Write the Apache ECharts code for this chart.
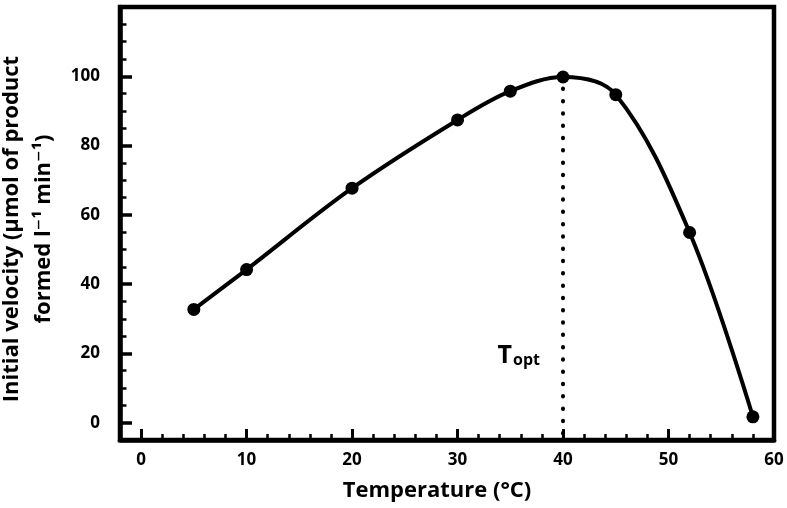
<!DOCTYPE html>
<html><head><meta charset="utf-8">
<script src="https://cdn.jsdelivr.net/npm/echarts@6/dist/echarts.min.js"></script>
<style>html,body{margin:0;padding:0;background:#fff}#c{width:787px;height:508px}</style>
</head><body><div id="c"></div>
<script>
const temperature = [5, 10, 20, 30, 35, 40, 45, 52, 58];
const velocity = [32.7, 44.2, 67.7, 87.4, 95.7, 99.8, 94.7, 54.9, 1.7];
const xMajorTicks = [0, 10, 20, 30, 40, 50, 60];
const xMinorTicks = [-2, 2, 4, 6, 8, 12, 14, 16, 18, 22, 24, 26, 28, 32, 34, 36, 38, 42, 44, 46, 48, 52, 54, 56, 58];
const yMajorTicks = [0, 20, 40, 60, 80, 100];
const yMinorTicks = [5, 10, 15, 25, 30, 35, 45, 50, 55, 65, 70, 75, 85, 90, 95, 105, 110, 115];
const optimumTemp = 40;
const optimumVelocity = 100;
const optimumLabelPos = [35.8, 20];
const xTitle = 'Temperature (°C)';
const yTitle = 'Initial velocity (µmol of product\nformed l⁻¹ min⁻¹)';

const FONT = '"Open Sans", "DejaVu Sans", sans-serif';
const X = {min: -2, max: 60};
const Y = {min: -5, max: 120};

const chart = echarts.init(document.getElementById('c'), null, {renderer: 'canvas'});
chart.setOption({
  animation: false,
  backgroundColor: '#fff',
  grid: {left: 120, right: 13, top: 7, bottom: 68, outerBoundsMode: 'none', containLabel: false,
         show: true, borderColor: '#000', borderWidth: 4.5, backgroundColor: 'transparent'},
  xAxis: [{
    type: 'value', min: X.min, max: X.max,
    name: xTitle, nameLocation: 'middle', nameGap: 40,
    nameTextStyle: {fontFamily: FONT, fontWeight: 700, fontSize: 22, color: '#000', padding: [0, 20, 0, 0]},
    axisLine: {show: true, onZero: false, lineStyle: {color: '#000', width: 4.5}},
    axisTick: {show: true, inside: true, length: 11, lineStyle: {color: '#000', width: 3}, customValues: xMajorTicks},
    axisLabel: {show: true, margin: 12, fontFamily: FONT, fontWeight: 700, fontSize: 17, color: '#000', customValues: xMajorTicks},
    splitLine: {show: false}
  }, {
    type: 'value', min: X.min, max: X.max, position: 'bottom',
    axisLine: {show: false, onZero: false},
    axisTick: {show: true, inside: true, length: 6, lineStyle: {color: '#000', width: 2.5}, customValues: xMinorTicks},
    axisLabel: {show: false},
    splitLine: {show: false}
  }],
  yAxis: [{
    type: 'value', min: Y.min, max: Y.max,
    name: yTitle, nameLocation: 'middle', nameGap: 45,
    nameTextStyle: {fontFamily: FONT, fontWeight: 700, fontSize: 22, color: '#000', lineHeight: 32, align: 'center', padding: [0, 11, 0, 0]},
    axisLine: {show: true, onZero: false, lineStyle: {color: '#000', width: 4.5}},
    axisTick: {show: true, inside: true, length: 12, lineStyle: {color: '#000', width: 3.5}, customValues: yMajorTicks},
    axisLabel: {show: true, margin: 20, fontFamily: FONT, fontWeight: 700, fontSize: 17, color: '#000', customValues: yMajorTicks},
    splitLine: {show: false}
  }, {
    type: 'value', min: Y.min, max: Y.max, position: 'left',
    axisLine: {show: false, onZero: false},
    axisTick: {show: true, inside: true, length: 6.5, lineStyle: {color: '#000', width: 2.5}, customValues: yMinorTicks},
    axisLabel: {show: false},
    splitLine: {show: false}
  }],
  series: [{
    type: 'line',
    data: temperature.map((t, i) => [t, velocity[i]]),
    smooth: 0.35,
    symbol: 'circle', symbolSize: 13,
    itemStyle: {color: '#000'},
    lineStyle: {color: '#000', width: 4},
    z: 5,
    markLine: {
      silent: true, symbol: 'none', label: {show: false},
      lineStyle: {color: '#000', width: 4, type: [0.5, 11.8], cap: 'round'},
      data: [[{coord: [optimumTemp, optimumVelocity]}, {coord: [optimumTemp, Y.min]}]]
    }
  }, {
    type: 'scatter',
    data: [optimumLabelPos],
    symbolSize: 0, silent: true,
    itemStyle: {color: '#000', opacity: 1},
    label: {
      show: true, position: 'inside', color: '#000', opacity: 1, textBorderWidth: 0,
      formatter: '{t|T}{s|opt}',
      rich: {
        t: {fontFamily: FONT, fontWeight: 700, fontSize: 25, color: '#000', lineHeight: 30, verticalAlign: 'bottom'},
        s: {fontFamily: FONT, fontWeight: 700, fontSize: 16, color: '#000', lineHeight: 20, verticalAlign: 'bottom', padding: [0, 0, 0, 1]}
      }
    }
  }]
});
</script></body></html>
